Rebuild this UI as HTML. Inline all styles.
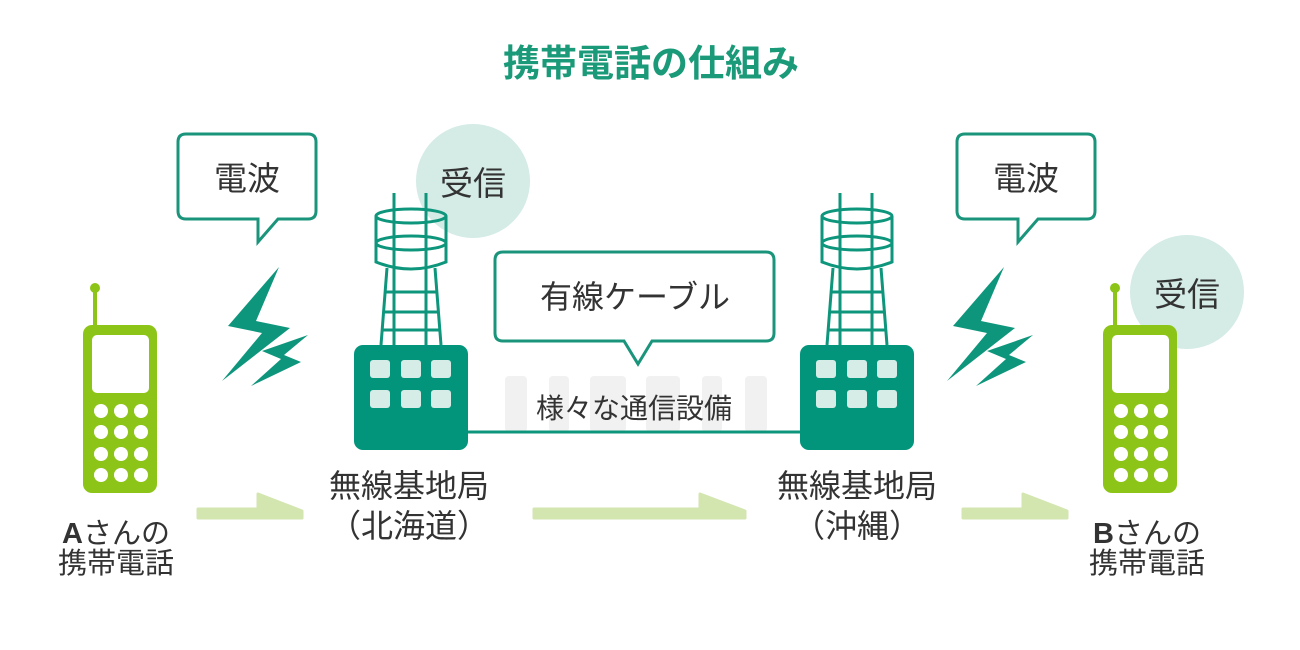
<!DOCTYPE html>
<html><head><meta charset="utf-8"><style>
html,body{margin:0;padding:0;background:#fff;}
svg{display:block;}
text{font-family:"Liberation Sans","Noto Sans CJK JP",sans-serif;}
</style></head><body>
<svg width="1300" height="650" viewBox="0 0 1300 650" xmlns="http://www.w3.org/2000/svg">
<defs>
<g id="tower">
  <g fill="none" stroke="#0e967c" stroke-width="3">
    <line x1="394" y1="193" x2="394" y2="345"/>
    <line x1="426" y1="193" x2="426" y2="345"/>
    <ellipse cx="411" cy="216" rx="35" ry="7"/>
    <ellipse cx="411" cy="243" rx="35" ry="7"/>
    <path d="M376 216 V262 Q411 276 446 262 V216"/>
    <line x1="387" y1="268" x2="381" y2="345"/>
    <line x1="435" y1="268" x2="441" y2="345"/>
    <line x1="385" y1="292" x2="437" y2="292"/>
    <line x1="384" y1="312" x2="438" y2="312"/>
    <line x1="382" y1="330" x2="440" y2="330"/>
  </g>
  <rect x="354" y="345" width="114" height="105" rx="9" fill="#03957c"/>
  <g fill="#d5ece7">
    <rect x="370" y="360" width="20" height="18" rx="3"/>
    <rect x="401" y="360" width="20" height="18" rx="3"/>
    <rect x="431" y="360" width="20" height="18" rx="3"/>
    <rect x="370" y="390" width="20" height="18" rx="3"/>
    <rect x="401" y="390" width="20" height="18" rx="3"/>
    <rect x="431" y="390" width="20" height="18" rx="3"/>
  </g>
</g>
<g id="phone">
  <line x1="95" y1="288" x2="95" y2="328" stroke="#8cc418" stroke-width="4"/>
  <circle cx="95" cy="288" r="5" fill="#8cc418"/>
  <rect x="83" y="325" width="74" height="168" rx="9" fill="#8cc418"/>
  <rect x="92" y="335" width="57" height="58" rx="5" fill="#fff"/>
  <g fill="#fff">
    <circle cx="101" cy="411" r="7"/><circle cx="121" cy="411" r="7"/><circle cx="141" cy="411" r="7"/>
    <circle cx="101" cy="432" r="7"/><circle cx="121" cy="432" r="7"/><circle cx="141" cy="432" r="7"/>
    <circle cx="101" cy="454" r="7"/><circle cx="121" cy="454" r="7"/><circle cx="141" cy="454" r="7"/>
    <circle cx="101" cy="475" r="7"/><circle cx="121" cy="475" r="7"/><circle cx="141" cy="475" r="7"/>
  </g>
</g>
<g id="bolt" fill="#0e967c">
  <polygon points="279,267 228,326 262,333 222,381 290,328 256,321"/>
  <polygon points="308,335 262,351 281,359 251,386 301,362 284,355"/>
</g>
<g id="arrow">
  <polygon points="0,0 60,0 60,-15 104,2 104,9 0,9" fill="#d3e6b0" stroke="#d3e6b0" stroke-width="3" stroke-linejoin="round"/>
</g>
</defs>

<text x="651" y="76" text-anchor="middle" font-size="37" font-weight="bold" fill="#1a9a78">携帯電話の仕組み</text>

<circle cx="473" cy="181" r="57" fill="#d4ebe6"/>
<text x="473" y="195" text-anchor="middle" font-size="33" fill="#333">受信</text>
<circle cx="1187" cy="292" r="57" fill="#d4ebe6"/>
<text x="1187" y="306" text-anchor="middle" font-size="33" fill="#333">受信</text>

<path d="M186 134 H308 Q316 134 316 142 V211 Q316 219 308 219 H278 L258 242 L258 219 H186 Q178 219 178 211 V142 Q178 134 186 134 Z" fill="#fff" stroke="#1a957c" stroke-width="3"/>
<text x="247" y="190" text-anchor="middle" font-size="33" fill="#333">電波</text>
<path d="M965 134 H1087 Q1095 134 1095 142 V211 Q1095 219 1087 219 H1038 L1018 242 L1018 219 H965 Q957 219 957 211 V142 Q957 134 965 134 Z" fill="#fff" stroke="#1a957c" stroke-width="3"/>
<text x="1026" y="190" text-anchor="middle" font-size="33" fill="#333">電波</text>
<path d="M503 252 H766 Q774 252 774 260 V333 Q774 341 766 341 H652 L638 364 L624 341 H503 Q495 341 495 333 V260 Q495 252 503 252 Z" fill="#fff" stroke="#1a957c" stroke-width="3"/>
<text x="635" y="308" text-anchor="middle" font-size="32" fill="#333">有線ケーブル</text>

<g fill="#f1f1f1">
  <rect x="505" y="376" width="22" height="56" rx="4"/>
  <rect x="549" y="376" width="20" height="56" rx="4"/>
  <rect x="590" y="376" width="36" height="56" rx="4"/>
  <rect x="646" y="376" width="34" height="56" rx="4"/>
  <rect x="702" y="376" width="20" height="56" rx="4"/>
  <rect x="745" y="376" width="22" height="56" rx="4"/>
</g>
<text x="634" y="418" text-anchor="middle" font-size="28" fill="#333">様々な通信設備</text>
<line x1="466" y1="432" x2="802" y2="432" stroke="#0e967c" stroke-width="3"/>

<use href="#tower"/>
<use href="#tower" transform="translate(446,0)"/>
<use href="#phone"/>
<use href="#phone" transform="translate(1020,0)"/>
<use href="#bolt"/>
<use href="#bolt" transform="translate(725,0)"/>

<use href="#arrow" transform="translate(198,509)"/>
<polygon points="534,509 700,509 700,494 745,511 745,518 534,518" fill="#d3e6b0" stroke="#d3e6b0" stroke-width="3" stroke-linejoin="round"/>
<use href="#arrow" transform="translate(963,509)"/>

<g font-size="32" fill="#333" text-anchor="middle">
  <text x="409" y="497">無線基地局</text>
  <text x="409" y="537">（北海道）</text>
  <text x="857" y="497">無線基地局</text>
  <text x="857" y="537">（沖縄）</text>
</g>
<g font-size="29" fill="#333" text-anchor="middle">
  <text x="116" y="543"><tspan font-weight="bold">A</tspan>さんの</text>
  <text x="116" y="573">携帯電話</text>
  <text x="1147" y="543"><tspan font-weight="bold">B</tspan>さんの</text>
  <text x="1147" y="573">携帯電話</text>
</g>
</svg>
</body></html>
